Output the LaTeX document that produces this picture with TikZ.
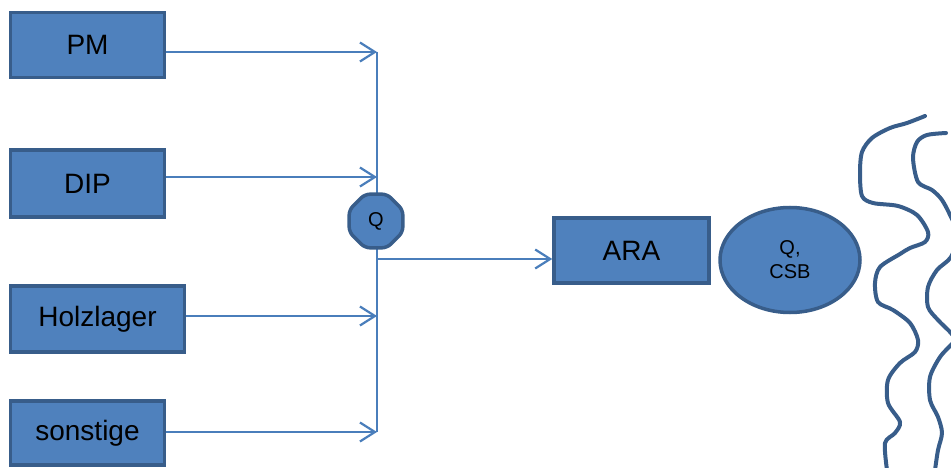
\documentclass[tikz,border=0pt]{standalone}
\usepackage{fontspec}
\setmainfont{Liberation Sans}
\usetikzlibrary{arrows.meta,shapes.geometric}
\definecolor{boxfill}{HTML}{4F81BD}
\definecolor{boxline}{HTML}{385D8A}
\definecolor{conn}{HTML}{4A7EBB}
\tikzset{
  srcbox/.style={draw=boxline, line width=3.5pt, fill=boxfill, rectangle, inner sep=0pt,
    font=\fontsize{28}{33}\selectfont},
  conline/.style={draw=conn, line width=2.2pt},
  conarrow/.style={conline, -{Straight Barb[length=15pt,width=19pt,line width=2.2pt]}},
  wave/.style={draw=boxline, line width=4pt, line cap=round, line join=round}
}
\begin{document}
\begin{tikzpicture}[x=1pt,y=-1pt]
\useasboundingbox (0,0) rectangle (951,468);
% source boxes
\node[srcbox, minimum width=154pt, minimum height=65pt] (PM) at (87.5,45) {PM};
\node[srcbox, minimum width=154pt, minimum height=67pt] (DIP) at (87.5,183.5) {DIP};
\node[srcbox, minimum width=174pt, minimum height=66pt] (HL) at (97.5,319) {Holzlager};
\node[srcbox, minimum width=154pt, minimum height=64pt] (SO) at (87.5,433) {sonstige};
% junction coordinates
\coordinate (j1) at (377,52);
\coordinate (j2) at (377,177);
\coordinate (j3) at (377,316);
\coordinate (j4) at (377,432);
\coordinate (jo) at (377,259);
% connectors
\draw[conarrow] (PM.east |- j1) -- (j1);
\draw[conarrow] (DIP.east |- j2) -- (j2);
\draw[conarrow] (HL.east |- j3) -- (j3);
\draw[conarrow] (SO.east |- j4) -- (j4);
\draw[conline] (j1) -- (j4);
% Q octagon
\node[regular polygon, regular polygon sides=8, draw=boxline, line width=3.5pt, fill=boxfill,
  rounded corners=5pt, minimum size=58pt, inner sep=0pt, font=\fontsize{20}{23}\selectfont] (Q) at (376,221) {Q};
% ARA
\node[srcbox, minimum width=155pt, minimum height=65pt] (ARA) at (631.5,250.5) {ARA};
\draw[conarrow] (jo) -- (ARA.west |- jo);
% ellipse
\node[ellipse, draw=boxline, line width=3.5pt, fill=boxfill, minimum width=140pt, minimum height=105pt,
  inner sep=0pt, align=center, font=\fontsize{20}{24}\selectfont] (E) at (790,260) {Q,\\CSB};
% wavy lines
\begin{scope}
\clip (0,0) rectangle (951,468);
\draw[wave] plot[smooth, tension=0.5] coordinates {(925,116) (907,123) (890,128) (872,138) (862,152) (860,173) (862,196) (873,203) (898,206) (917,215) (928,232) (925,242) (910,248) (900,254) (880,267) (875,283) (878,302) (893,310) (910,323) (918,340) (915,352) (900,363) (888,380) (888,403) (900,422) (895,433) (885,443) (887,470)};
\draw[wave] plot[smooth, tension=0.5] coordinates {(946,133) (927,135) (917,142) (913,158) (918,182) (932,190) (942,200) (951,217) (958,235) (951,257) (937,270) (928,287) (928,307) (938,320) (951,333) (955,340) (951,345) (940,357) (930,377) (930,400) (938,417) (942,433) (938,450) (935,470)};
\end{scope}
\end{tikzpicture}
\end{document}
